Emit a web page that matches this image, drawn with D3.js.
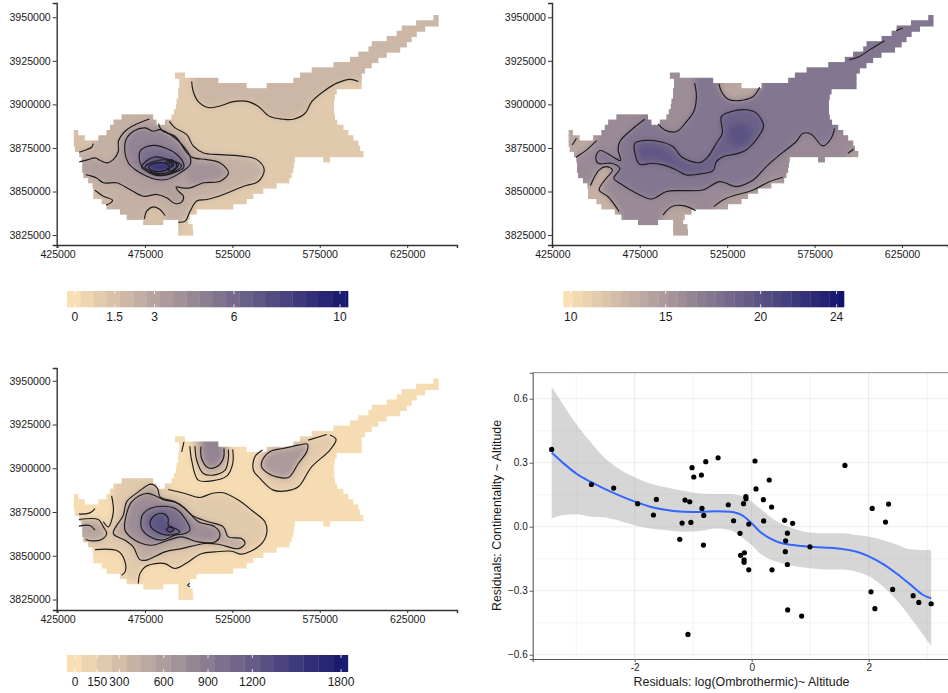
<!DOCTYPE html>
<html>
<head>
<meta charset="utf-8">
<script src="https://cdn.jsdelivr.net/npm/d3@7"></script>
<style>
body {margin:0; background:white;}
text {font-family:"Liberation Sans", Arial, sans-serif; fill:#1a1a1a;}
</style>
</head>
<body>
<svg id="fig" width="948" height="693"></svg>
<script>
// raster rows of the island: northing, then from/to easting (km)
var landRows = [
[3949.5,640,643],[3946.5,630.1,643],[3943.5,621.9,635.3],[3940.5,619,630.5],[3937.5,613.3,627.6],
[3934.5,604.7,624.8],[3931.5,602.8,621],[3928.5,597,613.3],[3925.5,592.3,608.5],[3922.5,582.8,604.7],
[3919.5,570.4,600.9],[3916.5,492.2,497.9],[3916.5,563.7,599],[3913.5,494.6,517],[3913.5,559.9,599],
[3910.5,494.6,533.2],[3910.5,544.6,599],[3907.5,494,584.7],[3904.5,494,583.7],[3901.5,493.1,583.2],
[3898.5,492.7,583.2],[3895.5,491.6,583.2],[3892.5,461.6,479.7],[3892.5,490.2,583.7],[3889.5,456.9,481.7],
[3889.5,486.4,585],[3886.5,455,588.5],[3883.5,434.3,436.8],[3883.5,453,591.4],[3880.5,434.3,440.6],
[3880.5,448.3,594.2],[3877.5,434.3,597.1],[3874.5,434.9,598.1],[3871.5,437.4,600],[3868.5,438.7,560.8],
[3868.5,577,580.9],[3865.5,439.1,560.3],[3862.5,439.1,559.9],[3859.5,439.7,558.9],[3856.5,442.5,557.6],
[3853.5,445,550.3],[3850.5,445.4,542.7],[3847.5,445.4,537],[3844.5,450.2,533.2],[3841.5,453,525.5],
[3838.5,460.7,504.6],[3835.5,464.5,500.7],[3832.5,474,485.5],[3832.5,494.1,499.8],[3829.5,494.1,502.3],
[3826.5,494.1,502.6]];

var mapXTicks = [425,475,525,575,625];
var mapYTicks = [3825,3850,3875,3900,3925,3950];

// top left map, contour lines (easting, northing km)
var ombroNorth = [[501.7,3913.1],[502.6,3907.4],[505.5,3901.6],[511.2,3898.2],[517.9,3899.1],[525.5,3901.6],[534.1,3901.6],[539.9,3898.8],[546.5,3893],[554.2,3891.5],[559.9,3891.5],[566.6,3894.9],[570.4,3901.6],[577.1,3907.4],[584.7,3912.2],[592.3,3914.4],[597.1,3913.1]];
var ombroOuter = [[489,3890.3],[492.2,3886.5],[498.9,3882.6],[502.7,3876],[508.5,3872.1],[518,3871.2],[531.4,3870.2],[539,3868.3],[543.2,3862.6],[540,3855.9],[531.4,3853],[519.9,3848.3],[510.4,3845.4],[504.6,3844.5],[500.8,3838.7],[498,3833],[494.1,3832.4]];
var ombroPaphos = [[474.7,3834.3],[476,3838.7],[479.8,3841.2],[483.6,3839.7],[486.5,3836.2]];
var ombroSouthWest = [[446.4,3850.7],[451.2,3847.3],[456.5,3845],[455.4,3843.5],[452.7,3842.2]];
var ombroWest = [[437.4,3872.5],[441.6,3874],[444.5,3875.4],[445.4,3877.5]];
var ombroMidA = [[437.4,3867],[442.6,3868.3],[446.4,3869.3],[449.3,3867.9],[453.1,3866.4],[456.9,3868.3],[459.8,3873.1],[459.8,3878.8],[463.6,3884.6],[468.4,3887.8],[477.5,3891.6]];
var ombroMidB = [[482.7,3889],[484.6,3885.1],[492.2,3881.7],[497,3875],[499.9,3871.2],[502.7,3869.3],[510.4,3868.3],[518,3866.4],[522.8,3860.7],[518,3855.9],[508.5,3855],[500.8,3852.1],[496,3852.1],[492.8,3852.7],[494.1,3850.2],[497,3847.3],[496,3843.9],[492.2,3843.1],[487.4,3846.4],[481.7,3848.3],[474,3847.3],[466.4,3851.1],[458.8,3855],[451.2,3855],[447.3,3857.8],[441.2,3859.7]];
var ombroRingD = [[475,3886.5],[468.4,3884.6],[464.2,3879.8],[463.6,3872.1],[465.5,3866.4],[469.3,3862.6],[476,3858.8],[481.7,3856.9],[487.4,3856.9],[495.1,3860.7],[500.8,3865.5],[500.8,3870.2],[497,3876],[492.2,3880.7],[483.6,3885.5],[479.8,3884.6]];
var ombroRingE = [[472.2,3873.1],[475,3875.4],[480.8,3876.5],[486.5,3875],[492.2,3872.1],[497,3866.4],[497,3863.5],[491.3,3860.7],[485.5,3859.2],[479.8,3859.7],[475,3862.6],[472.2,3866.4]];
var ombroRingF = [[473.1,3864.1],[479.8,3869.7],[487.4,3868.7],[496,3864.9],[492.2,3861.6],[484.6,3859.5],[477.9,3861]];
var ombroRingG = [[475,3864.1],[480.8,3867.4],[489.4,3867.9],[494.1,3865.5],[490.9,3862.2],[483.6,3860.3],[477.9,3861.8]];
var ombroRingH = [[477,3864.1],[481.7,3866.4],[487.4,3865.8],[489,3863.5],[483.6,3861.4],[478.9,3862.2]];
var ombroPeakA = [[486.5,3866.4],[489.4,3868.3],[492.8,3866.4],[492.8,3863.5],[490.3,3861.3],[487.4,3863.5]];
var ombroPeakB = [[487.8,3866],[489.7,3867.6],[491.7,3865.6],[489.7,3863.7]];
var ombroPeakC = [[488.8,3865.6],[489.7,3866.6],[490.7,3865.6],[489.7,3864.6]];

// top right map, contour lines
var contiTipA = [[621.6,3942.4],[625.4,3943.9]];
var contiTipB = [[594.6,3925.5],[600.7,3927.5],[606.4,3931.3],[615,3936.6]];
var contiNorthW = [[506.4,3912.2],[507.4,3904.5],[505.9,3895.9],[501.7,3890.1],[496,3884.4],[489.3,3885.3],[485.5,3888.8]];
var contiNorthC = [[520.3,3911.8],[521.7,3907.4],[525.5,3903],[532.1,3902.2],[539.8,3904.5],[543.6,3909.8]];
var contiCore = [[521.7,3893],[527.4,3895.9],[536,3896.9],[541.7,3895],[545.8,3887.7],[543.6,3882.6],[536,3874],[530.2,3871.6],[522.6,3870],[518.8,3867.2],[516.9,3862],[509.3,3860.1],[501.7,3859.5],[496,3862.4],[488.3,3865.3],[481.7,3866.2],[475,3865.6],[472.2,3872],[472.2,3877.7],[476.9,3879.2],[484.5,3879],[494,3875.8],[498.8,3870],[509.3,3866.6],[514,3870],[518.8,3877.7],[522.2,3883.4]];
var contiSouth = [[477.9,3891.5],[471.2,3886.3],[463.6,3878.7],[462.6,3873.9],[464,3867.7],[458.8,3870.4],[452.2,3873.5],[449.9,3870],[451.2,3866.2],[458.8,3866.2],[463.6,3863.3],[460.2,3857.6],[463.6,3854.7],[473.1,3849],[481.7,3845.7],[490.3,3850],[499.8,3850.5],[511.2,3850.9],[520.7,3855.7],[530.2,3852.8],[539.8,3856.6],[547.4,3864.3],[555,3871],[564.5,3878.7],[568.3,3883.4],[573.1,3882.9],[579.7,3876.2],[584.5,3880.6],[586.4,3886.3]];
var contiWestA = [[438.5,3869.7],[444.6,3873.9],[450.3,3879.2]];
var contiWestB = [[436.4,3876.7],[438.8,3880.6]];
var contiCape = [[446.8,3853.4],[451.8,3862.4],[456,3864.3],[459.4,3862.4],[455,3856.6],[451.8,3850.9],[456.9,3847],[463.2,3838.5]];
var contiLimassol = [[488.3,3836.5],[493.1,3841.3],[499.8,3841.9],[507,3839]];
var contiLarnaca = [[517.3,3841.3],[524.5,3846.1],[539.8,3850.9],[549.3,3855.7],[556.9,3858.2]];
var contiGreco = [[594,3872],[597.3,3874.3]];

// bottom left map, contour lines
var altOuter = [[488.3,3887.9],[497.9,3885.6],[506.5,3883.3],[513.1,3885.6],[519.8,3886],[528.4,3881.8],[536,3876],[543.6,3869.4],[544.6,3862.7],[540.8,3856],[530.3,3850.9],[524.6,3852.6],[515,3852.2],[506.5,3850.9],[499.8,3846.5],[492.2,3842.7],[486.4,3845.5],[480.7,3845.5],[475,3843.6],[472.1,3839.8],[471.2,3834.1]];
var altSouthW = [[461.6,3838.9],[463.6,3840.8],[463.6,3846.5],[459.7,3852.6],[446.4,3853.5]];
var altNorthW = [[451.2,3869.4],[454,3866.5],[456.9,3875.1],[455.9,3884.2]];
var altWestA = [[437.2,3873.8],[443.5,3874.5],[446.4,3877]];
var altWestB = [[437.2,3870.7],[448.3,3870.7],[451.2,3866.5],[453.1,3862.7],[450.2,3859.3],[444.5,3858.5],[441.1,3859.3]];
var altWestC = [[437.2,3866.9],[443.5,3867.3],[446.4,3864.6]];
var altRingB = [[478.4,3890.9],[471.2,3886.5],[464.5,3880.8],[462.6,3873.2],[456.9,3862.7],[463.6,3858.9],[468.3,3855.1],[472.1,3847.8],[475.9,3847.5],[486.4,3852.2],[495.9,3854.1],[509.3,3857],[516.9,3856.6],[528.4,3854.1],[532.2,3857],[530.3,3859.8],[522.7,3860.8],[519.8,3866.5],[511.2,3869.4],[501.7,3873.2],[497.9,3877],[492.2,3880.8],[483.6,3883.7],[482.2,3888.4]];
var altRingC = [[475.9,3885.6],[467.4,3880.8],[464.5,3874.1],[463.6,3864.6],[469.3,3858.9],[478.8,3856],[488.3,3858.9],[495.9,3860.8],[505.5,3857.9],[515,3857.9],[517.9,3861.8],[515,3866.5],[505.5,3869.4],[500.7,3874.1],[494.1,3879.9],[486.4,3881.8]];
var altRingD = [[474,3874.1],[477.9,3877],[485.5,3878.3],[492.2,3877],[497.9,3871.3],[500.7,3864.6],[497.9,3862.7],[492.2,3861.8],[484.5,3858.9],[477.9,3860.8],[473.1,3865.6],[473.1,3872.2]];
var altRingE = [[477.9,3869.4],[480.7,3873.2],[485.5,3874.1],[488.3,3871.3],[488.3,3867.5],[492.2,3865.6],[495,3863.7],[488.3,3861.8],[481.7,3863.7],[478.4,3866.5]];
var altPeak = [[487.4,3865],[489.3,3866.5],[491.4,3865],[489.3,3863.5]];
var altSpot = [[500.7,3834.1],[499.4,3833.2],[500.7,3832.2]];
var altLobeA = [[500.7,3912.6],[501.7,3904.6],[505.5,3893.2],[513.1,3892.8],[521.7,3895.5],[525.2,3902.7],[525.2,3910.7]];
var altLobeB = [[503.6,3912.6],[504.6,3904.6],[508.4,3897],[514.1,3896.1],[520.8,3898.9],[522.7,3905.6],[522.7,3910.7]];
var altLobeC = [[507,3912.3],[507.4,3905.6],[511.2,3900.3],[516,3900.8],[519.8,3905.6],[520.2,3911.3]];
var altStub = [[497.3,3915.1],[496,3909.4]];
var altEastA = [[542.3,3910.4],[537.9,3906.6],[537,3898.9],[540.8,3894.2],[548.4,3887.5],[556,3887.1],[562.7,3889.4],[570.3,3900.8],[580.8,3910.4],[584.3,3916.5],[580.8,3919]];
var altEastStub = [[579,3919.3],[568.4,3916.1]];
var altEastB = [[547.5,3910],[542.7,3905.6],[541.7,3900.8],[545.6,3897],[550.3,3895.1],[557,3894.7],[562.7,3902.7],[567.5,3909.4],[567.9,3913.8],[562.7,3913.2],[554.1,3911.3]];

// colour bars
var ombroLegendTicks = [0,1.5,3,6,10];
var contiLegendTicks = [10,15,20,24];
var altLegendTicks = [0,150,300,600,900,1200,1800];

// residual scatter
var resX = [-3.42,-2.74,-2.36,-1.95,-1.68,-1.63,-1.23,-1.19,-1.14,-1.06,-1.09,-1.04,-1.02,-0.99,-0.86,-0.85,-0.82,-0.825,-0.785,-0.575,-0.40,-0.31,-0.20,-0.19,-0.125,-0.13,-0.13,-0.14,-0.10,-0.097,-0.05,-0.05,0.057,0.074,0.2,0.205,0.30,0.347,0.34,0.563,0.58,0.575,0.61,0.61,0.615,0.70,0.854,0.996,1.594,2.04,2.06,2.106,2.288,2.34,2.41,2.76,2.857,3.068];
var resY = [0.3625,0.198,0.181,0.108,0.055,0.128,-0.059,0.017,0.125,0.117,-0.505,0.02,0.277,0.233,0.242,0.086,0.053,-0.086,0.305,0.323,0.103,0.028,-0.031,-0.134,-0.122,-0.155,-0.167,0.108,0.141,0.131,0.0125,-0.202,0.308,0.177,0.127,0.027,0.219,-0.202,0.092,0.03,-0.066,-0.117,-0.03,-0.177,-0.39,0.016,-0.419,-0.094,0.2875,-0.305,0.086,-0.384,0.022,0.106,-0.294,-0.323,-0.355,-0.361];
var fitX = [-3.42,-3.216,-2.988,-2.76,-2.533,-2.305,-2.02,-1.736,-1.451,-1.167,-0.882,-0.598,-0.37,-0.142,0,0.142,0.313,0.484,0.711,0.996,1.281,1.565,1.793,2.02,2.248,2.476,2.703,2.931,3.068];
var fitY = [0.348,0.297,0.247,0.211,0.18,0.152,0.12,0.094,0.078,0.07,0.069,0.073,0.07,0.05,0.016,-0.023,-0.055,-0.075,-0.086,-0.094,-0.098,-0.105,-0.117,-0.141,-0.175,-0.219,-0.269,-0.32,-0.336];
var fitHigh = [0.656,0.570,0.477,0.398,0.328,0.278,0.234,0.203,0.184,0.169,0.156,0.153,0.153,0.141,0.117,0.086,0.047,0.016,-0.008,-0.027,-0.031,-0.031,-0.039,-0.047,-0.063,-0.083,-0.106,-0.109,-0.109];
var fitLow = [0.039,0.055,0.058,0.047,0.044,0.031,0.008,-0.008,-0.016,-0.023,-0.02,-0.008,-0.016,-0.055,-0.086,-0.125,-0.153,-0.169,-0.184,-0.195,-0.2,-0.2,-0.211,-0.234,-0.281,-0.344,-0.422,-0.508,-0.559];
var resXTicks = [-2,0,2];
var resXMinor = [-3,-1,1,3];
var resYTicks = [-0.6,-0.3,0,0.3,0.6];
var resYMinor = [-0.45,-0.15,0.15,0.45];

var svg = d3.select("#fig");
var gLow = "#FFE4B5";
var gHigh = "#14146E";

var defs = svg.append("defs");
defs.append("filter").attr("id", "soft")
    .attr("filterUnits", "userSpaceOnUse")
    .attr("x", 0).attr("y", 0).attr("width", 948).attr("height", 693)
    .append("feGaussianBlur").attr("stdDeviation", 3.2);
defs.append("filter").attr("id", "softLine")
    .attr("filterUnits", "userSpaceOnUse")
    .attr("x", 0).attr("y", 0).attr("width", 948).attr("height", 693)
    .append("feGaussianBlur").attr("stdDeviation", 0.35);

// each layer: v = value painted inside, lines = stroked parts, out = closing points off the land
function drawMap(id, box, color, base, layers) {
    var x = d3.scaleLinear().domain(box.xDom).range(box.xPx);
    var y = d3.scaleLinear().domain(box.yDom).range(box.yPx);

    var clip = defs.append("clipPath").attr("id", "land" + id);
    clip.selectAll("rect").data(landRows).enter().append("rect")
        .attr("x", function(d) {return x(d[1]);})
        .attr("width", function(d) {return x(d[2]) - x(d[1]);})
        .attr("y", function(d) {return y(d[0] + 1.8);})
        .attr("height", function(d) {return y(d[0] - 1.8) - y(d[0] + 1.8);});

    var field = svg.append("g").attr("filter", "url(#softLine)")
        .append("g").attr("clip-path", "url(#land" + id + ")")
        .append("g").attr("filter", "url(#soft)");
    field.append("rect")
        .attr("x", box.xPx[0] - 20).attr("y", box.yPx[1] - 20)
        .attr("width", box.xPx[1] - box.xPx[0] + 40)
        .attr("height", box.yPx[0] - box.yPx[1] + 40)
        .attr("fill", color(base));

    var area = d3.line().x(function(d) {return x(d[0]);}).y(function(d) {return y(d[1]);})
        .curve(d3.curveLinearClosed);
    var ring = d3.line().x(function(d) {return x(d[0]);}).y(function(d) {return y(d[1]);})
        .curve(d3.curveCatmullRomClosed.alpha(0.5));
    var open = d3.line().x(function(d) {return x(d[0]);}).y(function(d) {return y(d[1]);})
        .curve(d3.curveCatmullRom.alpha(0.5));

    var fills = layers.filter(function(l) {return l.v != null;});
    field.selectAll("path").data(fills).enter().append("path")
        .attr("d", function(l) {
            var pts = d3.merge(l.lines.concat([l.out || []]));
            return l.out ? area(pts) : ring(pts);
        })
        .attr("fill", function(l) {return color(l.v);});

    var lines = svg.append("g").attr("fill", "none").attr("stroke", "#1c1c1c")
        .attr("stroke-width", 1.15).attr("filter", "url(#softLine)");
    layers.forEach(function(l) {
        if (l.hint) return;
        l.lines.forEach(function(part) {
            lines.append("path").attr("d", (l.out || l.v == null) ? open(part) : ring(part));
        });
    });

    // axes
    var ax = svg.append("g").attr("transform", "translate(0," + box.yPx[0] + ")")
        .call(d3.axisBottom(x).tickValues(mapXTicks).tickSize(3).tickPadding(2).tickFormat(function(d) {return d * 1000;}));
    var ay = svg.append("g").attr("transform", "translate(" + box.xPx[0] + ",0)")
        .call(d3.axisLeft(y).tickValues(mapYTicks).tickSize(4).tickPadding(2).tickFormat(function(d) {return d * 1000;}));
    [ax, ay].forEach(function(a) {
        a.selectAll("text").attr("font-size", "10.6px").attr("font-family", null).style("fill", "#1a1a1a");
        a.attr("font-family", null);
        a.selectAll("line").attr("stroke", "#333");
        a.select(".domain").attr("stroke", "#333").attr("stroke-width", 1.4);
    });
}

function drawLegend(box, color, step, ticks) {
    var x = d3.scaleLinear().domain(box.dom).range(box.px);
    var g = svg.append("g");
    var starts = d3.range(box.dom[0], box.dom[1] - step * 0.2, step);
    g.selectAll("rect").data(starts).enter().append("rect")
        .attr("x", function(d) {return x(d);})
        .attr("y", box.y)
        .attr("width", function(d) {return x(Math.min(d + step, box.dom[1])) - x(d) + 0.3;})
        .attr("height", box.h)
        .attr("fill", function(d) {return color(d + step / 2);});
    ticks.forEach(function(t) {
        g.append("line").attr("x1", x(t)).attr("x2", x(t)).attr("y1", box.y).attr("y2", box.y + 3)
            .attr("stroke", "white").attr("stroke-opacity", 0.8);
        g.append("line").attr("x1", x(t)).attr("x2", x(t)).attr("y1", box.y + box.h - 3).attr("y2", box.y + box.h)
            .attr("stroke", "white").attr("stroke-opacity", 0.8);
        g.append("text").attr("x", x(t)).attr("y", box.y + box.h + 13.5)
            .attr("text-anchor", "middle").attr("font-size", "12px").text(t);
    });
}

function makeColor(lo, hi) {
    return d3.scaleLinear().domain([lo, hi]).range([gLow, gHigh]).interpolate(d3.interpolateRgb);
}

// top left
var ombroColor = makeColor(-0.3, 10.3);
drawMap("A", {xDom:[424.5,653.5], xPx:[56.7,457], yDom:[3819.3,3958.2], yPx:[245,3]}, ombroColor, 1.1, [
    {v:2.0, lines:[ombroNorth], out:[[605,3913],[650,3945],[650,3960],[500,3960]]},
    {v:2.3, lines:[ombroOuter], out:[[494,3820],[425,3820],[425,3885],[460,3900],[485,3900]]},
    {v:1.5, lines:[ombroPaphos], out:[[487,3825],[474,3825]]},
    {v:1.6, lines:[ombroSouthWest], out:[[440,3840],[440,3851]]},
    {v:1.6, lines:[ombroWest], out:[[447,3890],[425,3890],[425,3872]]},
    {v:3.2, lines:[ombroMidA, ombroMidB], out:[[430,3860],[430,3867]]},
    {v:3.9, hint:true, lines:[[[500.8,3864.3],[516,3866],[521.8,3860.5],[516,3856.7],[500.8,3855]]]},
    {v:4.6, lines:[ombroRingD]},
    {v:5.6, lines:[ombroRingE]},
    {v:6.8, lines:[ombroRingF]},
    {v:7.9, lines:[ombroRingG]},
    {v:9.0, lines:[ombroRingH]},
    {v:null, lines:[ombroPeakA]},
    {v:null, lines:[ombroPeakB]},
    {v:null, lines:[ombroPeakC]}
]);
drawLegend({dom:[-0.3,10.3], px:[67,348], y:291, h:16.3}, ombroColor, 0.5, ombroLegendTicks);

// top right
var contiColor = makeColor(9.61, 24.39);
drawMap("B", {xDom:[424.8,651.3], xPx:[552,948], yDom:[3819.3,3958.2], yPx:[245,3]}, contiColor, 17.4, [
    {v:16.0, lines:[contiSouth], out:[[610,3886],[610,3815],[425,3815],[425,3900],[478,3900]]},
    {v:15.8, lines:[contiNorthW], out:[[480,3895],[480,3925],[506,3925]]},
    {v:14.0, lines:[contiNorthC], out:[[544,3925],[520,3925]]},
    {v:14.0, lines:[contiWestA], out:[[445,3892],[428,3892],[428,3868]]},
    {v:13.2, lines:[contiCape], out:[[463,3830],[440,3830],[440,3853]]},
    {v:14.0, lines:[contiLimassol], out:[[507,3820],[488,3820]]},
    {v:14.4, lines:[contiLarnaca], out:[[565,3840],[517,3830]]},
    {v:14.4, lines:[contiGreco], out:[[605,3868],[594,3866]]},
    {v:19.0, lines:[contiCore]},
    {v:20.0, hint:true, lines:[[[527,3888],[536,3888],[539,3881],[532,3876],[526,3880]]]},
    {v:19.6, hint:true, lines:[[[476,3876],[487,3875],[494,3869],[505,3862],[495,3865],[484,3869],[476,3869]]]},
    {v:null, lines:[contiTipA]},
    {v:null, lines:[contiTipB]},
    {v:null, lines:[contiWestB]}
]);
drawLegend({dom:[9.61,24.39], px:[563.3,844], y:291, h:16.3}, contiColor, 0.5, contiLegendTicks);

// bottom left
var altColor = makeColor(-54, 1847);
drawMap("C", {xDom:[424.5,653.5], xPx:[56.7,457], yDom:[3819,3957.3], yPx:[610,368]}, altColor, 15, [
    {v:190, lines:[altOuter, altSouthW], out:[[425,3853],[425,3862],[445,3862],[451.2,3869.4],[454,3866.5],[456.9,3875.1],[455.9,3884.2],[460,3900],[488,3900]]},
    {v:520, lines:[altWestB], out:[[428,3859],[428,3871]]},
    {v:130, lines:[altLobeA], out:[[525,3925],[500,3925]]},
    {v:170, lines:[altEastA], out:[[550,3916],[542,3914]]},
    {v:470, lines:[altRingB]},
    {v:400, lines:[altLobeB], out:[[523,3925],[503,3925]]},
    {v:620, lines:[altEastB]},
    {v:820, lines:[altLobeC], out:[[520,3925],[507,3925]]},
    {v:740, lines:[altRingC]},
    {v:1020, lines:[altRingD]},
    {v:1280, lines:[altRingE]},
    {v:1800, lines:[altPeak]},
    {v:null, lines:[altNorthW]},
    {v:null, lines:[altWestA]},
    {v:null, lines:[altWestC]},
    {v:null, lines:[altStub]},
    {v:null, lines:[altEastStub]},
    {v:null, lines:[altSpot]}
]);
drawLegend({dom:[-54,1847], px:[67,348], y:655, h:17}, altColor, 100, altLegendTicks);

// bottom right, residuals
var sx = d3.scaleLinear().domain([-3.744,3.356]).range([532.7,948]);
var sy = d3.scaleLinear().domain([-0.62,0.722]).range([659,372.7]);
var grid = svg.append("g").attr("stroke", "#ebebeb").attr("fill", "none");
function gridLines(vals, vertical, w) {
    grid.selectAll(null).data(vals).enter().append("line")
        .attr("stroke-width", w)
        .attr("x1", function(d) {return vertical ? sx(d) : sx.range()[0];})
        .attr("x2", function(d) {return vertical ? sx(d) : sx.range()[1];})
        .attr("y1", function(d) {return vertical ? sy.range()[0] : sy(d);})
        .attr("y2", function(d) {return vertical ? sy.range()[1] : sy(d);});
}
gridLines(resXMinor, true, 0.6);
gridLines(resYMinor, false, 0.6);
gridLines(resXTicks, true, 1.1);
gridLines(resYTicks, false, 1.1);

var band = d3.area().x(function(d, i) {return sx(fitX[i]);})
    .y0(function(d, i) {return sy(fitLow[i]);})
    .y1(function(d, i) {return sy(fitHigh[i]);})
    .curve(d3.curveMonotoneX);
svg.append("path").attr("d", band(fitX)).attr("fill", "#999999").attr("fill-opacity", 0.4);

var fit = d3.line().x(function(d, i) {return sx(fitX[i]);})
    .y(function(d, i) {return sy(fitY[i]);})
    .curve(d3.curveMonotoneX);
svg.append("path").attr("d", fit(fitX)).attr("fill", "none").attr("stroke", "#3366FF").attr("stroke-width", 2);

svg.append("g").selectAll("circle").data(resX).enter().append("circle")
    .attr("cx", function(d) {return sx(d);})
    .attr("cy", function(d, i) {return sy(resY[i]);})
    .attr("r", 2.6)
    .attr("fill", "black");

svg.append("line").attr("x1", sx.range()[0]).attr("x2", sx.range()[1])
    .attr("y1", sy.range()[1]).attr("y2", sy.range()[1]).attr("stroke", "#888");

var resAxisX = svg.append("g").attr("transform", "translate(0,659)")
    .call(d3.axisBottom(sx).tickValues(resXTicks).tickSize(3).tickPadding(1.5).tickFormat(function(d) {return d;}));
var resAxisY = svg.append("g").attr("transform", "translate(532.7,0)")
    .call(d3.axisLeft(sy).tickValues(resYTicks).tickSize(3).tickPadding(2).tickFormat(d3.format(".1f")));
[resAxisX, resAxisY].forEach(function(a) {
    a.attr("font-family", null);
    a.selectAll("text").attr("font-size", "10px").style("fill", "#1a1a1a");
    a.selectAll("line").attr("stroke", "#555");
    a.select(".domain").attr("stroke", "#555").attr("stroke-width", 1.1);
});

svg.append("text").attr("x", 741.5).attr("y", 686).attr("text-anchor", "middle")
    .attr("font-size", "12.4px").text("Residuals: log(Ombrothermic)~ Altitude");
svg.append("text").attr("transform", "translate(501,515.5) rotate(-90)").attr("text-anchor", "middle")
    .attr("font-size", "12.4px").text("Residuals: Continentality ~ Altitude");
</script>
</body>
</html>
